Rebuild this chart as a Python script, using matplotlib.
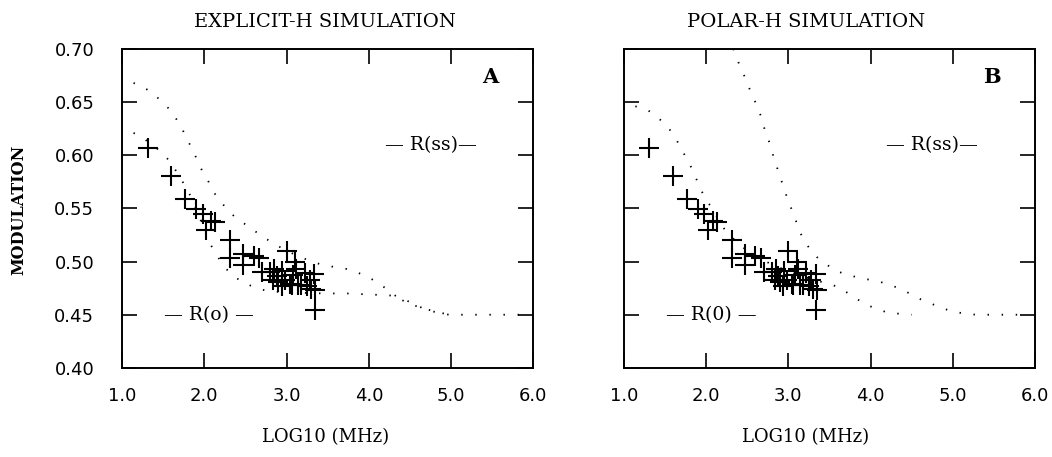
import matplotlib
matplotlib.use("Agg")
import matplotlib.pyplot as plt
import numpy as np

# measured points (same in both panels)
pts_x = [1.31, 1.60, 1.77, 1.90, 1.98, 2.02, 2.08, 2.13, 2.31, 2.31, 2.47, 2.47,
         2.60, 2.67, 2.70, 2.80, 2.85, 2.88, 2.90, 2.94, 3.00, 3.04, 3.08, 3.10,
         3.12, 3.14, 3.18, 3.22, 3.25, 3.28, 3.30, 3.33, 3.35, 3.34, 2.95, 2.84,
         3.06, 2.98]
pts_y = [0.607, 0.580, 0.559, 0.549, 0.545, 0.530, 0.538, 0.537, 0.520, 0.503, 0.507, 0.497,
         0.505, 0.503, 0.490, 0.490, 0.493, 0.486, 0.481, 0.477, 0.510, 0.479, 0.487, 0.500,
         0.493, 0.478, 0.478, 0.489, 0.477, 0.483, 0.474, 0.488, 0.473, 0.454, 0.491, 0.483,
         0.478, 0.483]

# explicit-H simulation curves
a_up_x = [1.14, 1.26, 1.38, 1.58, 1.66, 1.73, 1.79, 1.86, 1.91, 1.97, 2.04, 2.10,
          2.18, 2.27, 2.37, 2.48, 2.59, 2.70, 2.82, 3.0, 3.33, 3.57, 3.73, 3.85,
          3.98, 4.11, 4.22, 4.32, 4.44, 4.58, 4.71, 4.85, 4.97, 5.3, 5.85]
a_up_y = [0.668, 0.664, 0.658, 0.643, 0.634, 0.625, 0.615, 0.605, 0.596, 0.586, 0.577, 0.567,
          0.558, 0.550, 0.542, 0.536, 0.530, 0.524, 0.518, 0.510, 0.499, 0.495, 0.493, 0.490,
          0.486, 0.480, 0.474, 0.468, 0.464, 0.459, 0.454, 0.452, 0.450, 0.450, 0.450]
a_lo_x = [1.14, 1.26, 1.48, 1.56, 1.65, 1.80, 1.90, 2.00, 2.06, 2.13, 2.20, 2.29,
          2.40, 2.51, 2.64, 2.78, 3.0, 3.47, 3.74, 4.02, 4.29, 4.45, 4.58, 4.71, 4.85, 5.0]
a_lo_y = [0.621, 0.616, 0.603, 0.596, 0.586, 0.567, 0.550, 0.530, 0.518, 0.509, 0.500, 0.491,
          0.484, 0.479, 0.475, 0.472, 0.471, 0.470, 0.470, 0.469, 0.468, 0.462, 0.458, 0.455, 0.452, 0.450]

# polar-H simulation curves
b_up_x = [2.33, 2.42, 2.48, 2.53, 2.58, 2.64, 2.68, 2.72, 2.77, 2.81, 2.85, 2.89,
          2.94, 2.98, 3.03, 3.08, 3.13, 3.18, 3.26, 3.35, 3.45, 3.58, 3.71, 3.84,
          3.98, 4.11, 4.24, 4.37, 4.50, 4.62, 4.75, 4.87, 5.01, 5.14, 5.28, 5.85]
b_up_y = [0.700, 0.682, 0.672, 0.662, 0.653, 0.643, 0.633, 0.622, 0.612, 0.601, 0.592, 0.581,
          0.571, 0.561, 0.551, 0.541, 0.530, 0.521, 0.512, 0.504, 0.498, 0.491, 0.488, 0.485,
          0.483, 0.481, 0.478, 0.474, 0.469, 0.464, 0.460, 0.456, 0.453, 0.451, 0.450, 0.450]
b_lo_x = [1.14, 1.28, 1.39, 1.49, 1.58, 1.65, 1.72, 1.79, 1.85, 1.90, 1.96, 2.03,
          2.25, 2.50, 2.80, 3.10, 3.30, 3.49, 3.61, 3.71, 3.83, 3.95, 4.07, 4.20, 4.34, 4.50]
b_lo_y = [0.646, 0.643, 0.637, 0.630, 0.622, 0.613, 0.603, 0.593, 0.584, 0.574, 0.564, 0.555,
          0.527, 0.510, 0.497, 0.488, 0.483, 0.479, 0.476, 0.471, 0.465, 0.459, 0.456, 0.452, 0.451, 0.450]

serif = ["DejaVu Serif"]

fig = plt.figure(figsize=(10.52, 4.57), dpi=100)
ax1 = fig.add_axes([0.116, 0.195, 0.391, 0.698])
ax2 = fig.add_axes([0.593, 0.195, 0.391, 0.698])

panels = [
    (ax1, a_up_x, a_up_y, a_lo_x, a_lo_y, "A", "R(o)"),
    (ax2, b_up_x, b_up_y, b_lo_x, b_lo_y, "B", "R(0)"),
]

for ax, ux, uy, lx, ly, tag, r0 in panels:
    ax.plot(ux, uy, color="black", lw=1.3, ls=(0, (0.8, 7)))
    ax.plot(lx, ly, color="black", lw=1.3, ls=(0, (0.8, 7)))
    ax.plot(pts_x, pts_y, "+", color="black", ms=15, mew=1.5)
    ax.set_xlim(1.0, 6.0)
    ax.set_ylim(0.40, 0.70)
    ax.set_xticks([1, 2, 3, 4, 5, 6])
    ax.set_yticks(np.arange(0.40, 0.701, 0.05))
    ax.set_xticklabels(["1.0", "2.0", "3.0", "4.0", "5.0", "6.0"], fontsize=13)
    ax.tick_params(direction="in", length=11, width=1.2, top=True, right=True, pad=14)
    ax.tick_params(axis="y", pad=20, labelsize=13)
    for s in ax.spines.values():
        s.set_linewidth(1.4)
    ax.text(5.47, 0.674, tag, fontsize=15, fontweight="bold", family=serif,
            ha="center", va="center")
    ax.text(2.06, 0.450, "— " + r0 + " —", fontsize=13.5, family=serif,
            ha="center", va="center")
    ax.text(4.75, 0.610, "— R(ss)—", fontsize=13.5, family=serif,
            ha="center", va="center")

ax1.set_yticklabels(["0.40", "0.45", "0.50", "0.55", "0.60", "0.65", "0.70"])
ax2.set_yticklabels([])

fig.text(0.309, 0.952, "EXPLICIT-H SIMULATION", fontsize=14, family=serif,
         ha="center", va="center")
fig.text(0.766, 0.952, "POLAR-H SIMULATION", fontsize=14, family=serif,
         ha="center", va="center")
fig.text(0.309, 0.043, "LOG10 (MHz)", fontsize=13, family=serif,
         ha="center", va="center")
fig.text(0.766, 0.043, "LOG10 (MHz)", fontsize=13, family=serif,
         ha="center", va="center")
fig.text(0.018, 0.54, "MODULATION", fontsize=11.5, fontweight="bold", family=serif,
         rotation=90, ha="center", va="center")

fig.savefig("out.png", dpi=100)
